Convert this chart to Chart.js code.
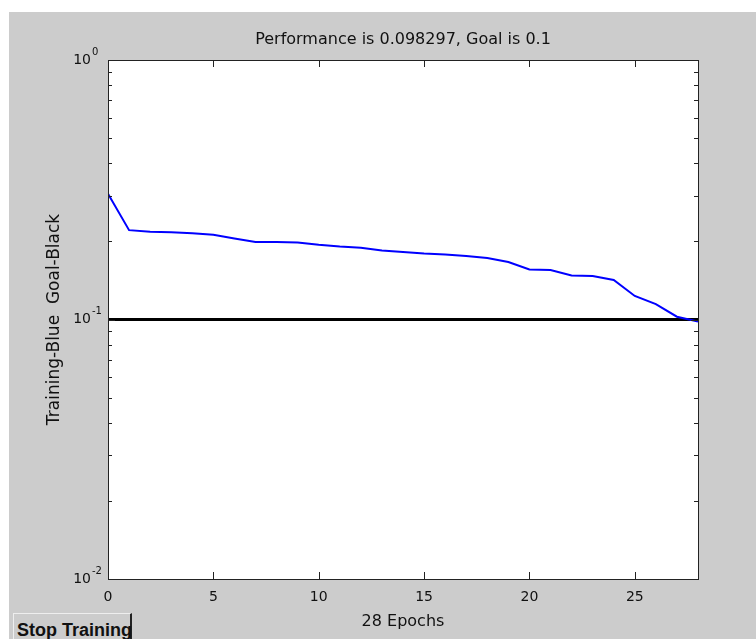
<!DOCTYPE html>
<html>
<head>
<meta charset="utf-8">
<script src="https://cdn.jsdelivr.net/npm/chart.js@4"></script>
<style>
  html, body { margin: 0; padding: 0; background: #fff; }
  #wrap { position: absolute; left: 9px; top: 12px; width: 747px; height: 627px; background: #cccccc; }
  #perfChart { display: block; }
  #stopBtn {
    position: absolute; left: 4px; top: 601px; width: 119px; height: 30px;
    background: #cccccc; border-top: 1px solid #eeeeee; border-left: 1px solid #eeeeee;
    border-right: 2px solid #222; box-sizing: border-box;
    font: bold 18px "Liberation Sans", Arial, sans-serif; color: #111;
    padding: 6px 0 0 3px; white-space: nowrap;
  }
</style>
</head>
<body>
<div id="wrap">
  <canvas id="perfChart" width="747" height="627"></canvas>
  <div id="stopBtn">Stop Training</div>
</div>
<script>
// training record
const epochs = [0, 1, 2, 3, 4, 5, 6, 7, 8, 9, 10, 11, 12, 13, 14, 15, 16, 17, 18, 19, 20, 21, 22, 23, 24, 25, 26, 27, 28];
const perf = [0.305, 0.221, 0.218, 0.217, 0.215, 0.212, 0.205, 0.199, 0.199, 0.198, 0.194, 0.191, 0.189, 0.1845,
  0.182, 0.1796, 0.178, 0.1757, 0.1726, 0.1666, 0.156, 0.155, 0.1478, 0.147, 0.142, 0.1232, 0.1147, 0.1025, 0.098297];
const goal = 0.1;
const xTicks = [0, 5, 10, 15, 20, 25];
const yExps = [-2, -1, 0];
const yMinor = [2, 3, 4, 5, 6, 7, 8, 9];

const FONT = "'DejaVu Sans', sans-serif";

// matlab style box, inward ticks, 10^n labels
const matlabAxes = {
  id: "matlabAxes",
  beforeDraw(chart) {
    const { ctx, chartArea: a } = chart;
    ctx.save();
    ctx.fillStyle = "#fff";
    ctx.fillRect(a.left, a.top, a.right - a.left, a.bottom - a.top);
    ctx.restore();
  },
  afterDraw(chart) {
    const { ctx, chartArea: a, scales } = chart;
    const xs = scales.x, ys = scales.y;
    ctx.save();
    ctx.strokeStyle = "#222";
    ctx.lineWidth = 1;
    ctx.beginPath();
    xTicks.forEach(v => {
      const px = Math.round(xs.getPixelForValue(v)) + 0.5;
      ctx.moveTo(px, a.bottom); ctx.lineTo(px, a.bottom - 7);
      ctx.moveTo(px, a.top); ctx.lineTo(px, a.top + 7);
    });
    yExps.forEach(e => {
      const py = Math.round(ys.getPixelForValue(Math.pow(10, e))) + 0.5;
      ctx.moveTo(a.left, py); ctx.lineTo(a.left + 7, py);
      ctx.moveTo(a.right, py); ctx.lineTo(a.right - 7, py);
      if (e < 0) {
        yMinor.forEach(m => {
          const q = Math.round(ys.getPixelForValue(m * Math.pow(10, e))) + 0.5;
          ctx.moveTo(a.left, q); ctx.lineTo(a.left + 4, q);
          ctx.moveTo(a.right, q); ctx.lineTo(a.right - 4, q);
        });
      }
    });
    ctx.stroke();
    ctx.strokeRect(Math.round(a.left) + 0.5, Math.round(a.top) + 0.5, Math.round(a.right - a.left), Math.round(a.bottom - a.top));

    ctx.fillStyle = "#111";
    ctx.textBaseline = "middle";
    yExps.forEach(e => {
      const py = ys.getPixelForValue(Math.pow(10, e));
      ctx.font = "14px " + FONT;
      ctx.textAlign = "right";
      ctx.fillText("10", a.left - 17, py);
      ctx.font = "10px " + FONT;
      ctx.textAlign = "left";
      ctx.fillText(String(e).replace("-", "-"), a.left - 16, py - 8);
    });
    ctx.restore();
  }
};

new Chart(document.getElementById("perfChart"), {
  type: "line",
  data: {
    datasets: [
      { label: "Training", data: epochs.map((e, i) => ({ x: e, y: perf[i] })), borderColor: "#0000ff", borderWidth: 2, pointRadius: 0, tension: 0 },
      { label: "Goal", data: [{ x: epochs[0], y: goal }, { x: epochs[epochs.length - 1], y: goal }], borderColor: "#000", borderWidth: 3, pointRadius: 0 }
    ]
  },
  options: {
    responsive: false,
    animation: false,
    layout: { padding: { left: 0, right: 58, top: 0, bottom: 0 } },
    plugins: {
      legend: { display: false },
      tooltip: { enabled: false },
      title: {
        display: true, fullSize: false,
        text: "Performance is 0.098297, Goal is 0.1",
        color: "#111", font: { family: FONT, size: 16, weight: "normal", lineHeight: 1 },
        padding: { top: 20, bottom: 12 }
      }
    },
    scales: {
      x: {
        type: "linear", min: 0, max: 28,
        afterBuildTicks: s => { s.ticks = xTicks.map(v => ({ value: v })); },
        afterFit: s => { s.height = 60; },
        grid: { display: false, drawTicks: false },
        border: { display: false },
        ticks: { color: "#111", font: { family: FONT, size: 14 }, padding: 10, maxRotation: 0 },
        title: { display: true, text: "28 Epochs", color: "#111", font: { family: FONT, size: 16, lineHeight: 1 }, padding: { top: 0, bottom: 9 } }
      },
      y: {
        type: "logarithmic", min: 0.01, max: 1,
        afterFit: s => { s.width = 99; },
        grid: { display: false, drawTicks: false },
        border: { display: false },
        ticks: { display: false },
        title: { display: true, text: "Training-Blue  Goal-Black", color: "#111", font: { family: FONT, size: 17, lineHeight: 1 }, padding: { top: 37.5, bottom: 0 } }
      }
    }
  },
  plugins: [matlabAxes]
});
</script>
</body>
</html>
